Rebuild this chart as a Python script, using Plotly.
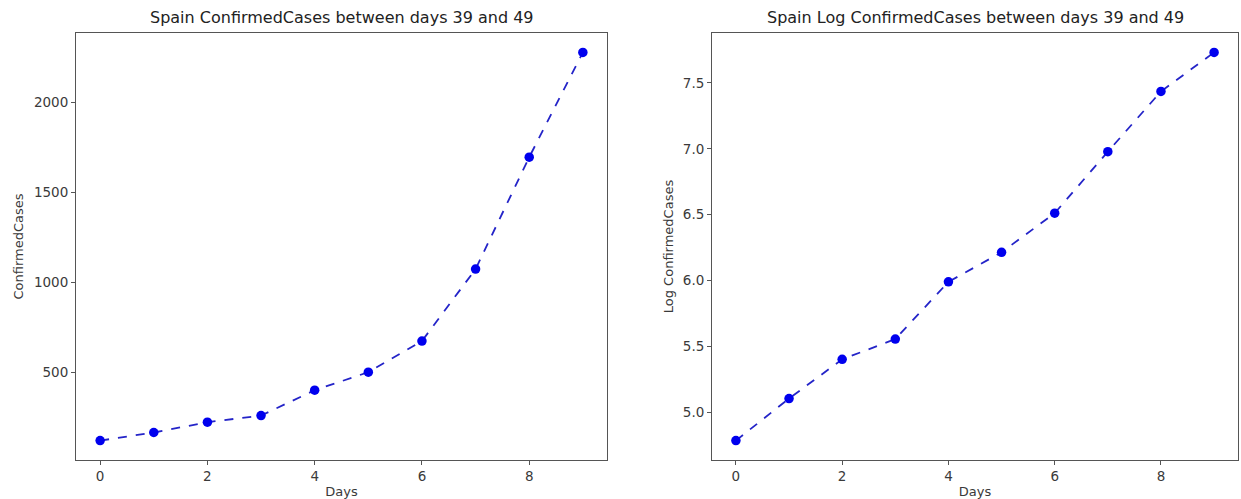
import plotly.graph_objects as go
from plotly.subplots import make_subplots

days = [0, 1, 2, 3, 4, 5, 6, 7, 8, 9]
confirmed_cases = [120, 165, 222, 259, 400, 500, 673, 1073, 1695, 2277]
log_confirmed_cases = [4.787, 5.106, 5.403, 5.557, 5.991, 6.215, 6.512, 6.978, 7.435, 7.731]
left_title = "Spain ConfirmedCases between days 39 and 49"
right_title = "Spain Log ConfirmedCases between days 39 and 49"
x_ticks = [0, 2, 4, 6, 8]
left_y_ticks = [500, 1000, 1500, 2000]
right_y_ticks = [5.0, 5.5, 6.0, 6.5, 7.0, 7.5]


def pad(vals):
    lo, hi = min(vals), max(vals)
    m = (hi - lo) * 0.05
    return [lo - m, hi + m]


W, H = 1241, 499
fig = make_subplots(rows=1, cols=2)

TXT = "#3a3a3a"
FONT = "DejaVu Sans"
TICK = 13.5
LAB = 13

for col, ys in [(1, confirmed_cases), (2, log_confirmed_cases)]:
    fig.add_trace(go.Scatter(
        x=days, y=ys, mode="lines+markers",
        line=dict(color="#2424c8", width=1.8, dash="dash"),
        marker=dict(color="#0000ee", size=9.5),
        showlegend=False), row=1, col=col)

ydom = [39 / H, 466 / H]
axis_common = dict(showline=True, linecolor="#555555", linewidth=1, mirror=True,
                   ticks="outside", ticklen=4, tickcolor="#555555", showgrid=False,
                   zeroline=False, tickfont=dict(family=FONT, size=TICK, color=TXT))

fig.update_layout(
    width=W, height=H, margin=dict(l=0, r=0, t=0, b=0),
    paper_bgcolor="white", plot_bgcolor="white",
    font=dict(family=FONT, color=TXT),
    xaxis=dict(domain=[76 / W, 607 / W], range=pad(days), tickvals=x_ticks,
               title=dict(text="Days", font=dict(size=LAB, color=TXT), standoff=3), **axis_common),
    yaxis=dict(domain=ydom, range=pad(confirmed_cases), tickvals=left_y_ticks,
               title=dict(text="ConfirmedCases", font=dict(size=LAB, color=TXT), standoff=7), **axis_common),
    xaxis2=dict(domain=[712 / W, 1238 / W], range=pad(days), tickvals=x_ticks,
                title=dict(text="Days", font=dict(size=LAB, color=TXT), standoff=3), **axis_common),
    yaxis2=dict(domain=ydom, range=pad(log_confirmed_cases), tickvals=right_y_ticks,
                tickformat=".1f",
                title=dict(text="Log ConfirmedCases", font=dict(size=LAB, color=TXT), standoff=6), **axis_common),
    annotations=[
        dict(text=left_title, x=(76 + 607) / 2 / W, y=1 - 17 / H, xref="paper", yref="paper",
             showarrow=False, xanchor="center", yanchor="middle",
             font=dict(family=FONT, size=16, color="#222222")),
        dict(text=right_title, x=(712 + 1238) / 2 / W, y=1 - 17 / H, xref="paper", yref="paper",
             showarrow=False, xanchor="center", yanchor="middle",
             font=dict(family=FONT, size=16, color="#222222")),
    ],
)

fig.write_html("out.html", config={"displayModeBar": False},
               post_script="document.body.style.margin='0';document.body.style.overflow='hidden';")
